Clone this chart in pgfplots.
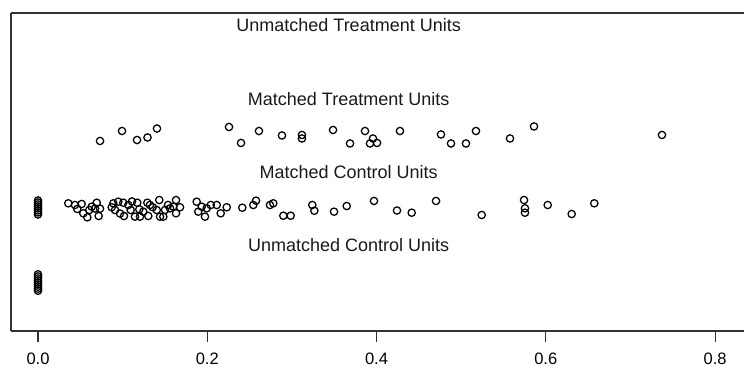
\documentclass[border=0pt]{standalone}
\usepackage{pgfplots}
\pgfplotsset{compat=1.18}
\usepackage{fontspec}
\setmainfont{Liberation Sans}
\begin{document}
\begin{tikzpicture}
\begin{axis}[
  at={(0,0)}, anchor=south west,
  scale only axis, width=549.75pt, height=238.5pt,
  xmin=-0.0319, xmax=0.8342, ymin=0.332, ymax=4.668,
  axis x line=box, axis y line=left,
  every non boxed y axis/.style={},
  y axis line style={-},
  axis line style={line width=0.8pt, black!80},
  ytick=\empty,
  xtick={0,0.2,0.4,0.6,0.8},
  xticklabels={0.0,0.2,0.4,0.6,0.8},
  xtick pos=left, xtick align=outside,
  major tick length=8pt,
  xtick style={line width=0.8pt, black!80},
  x tick label style={font=\fontsize{12.4}{14}\selectfont, yshift=-5pt},
  /pgf/number format/assume math mode=true,
  clip=false,
  jit/.style={only marks, mark=o, mark size=2.75pt, draw=black, mark options={line width=0.95pt, draw=black, fill=none}},
]
% Matched treatment units
\addplot[jit] coordinates {
(0.0733,2.923) (0.0993,3.059) (0.1170,2.936) (0.1294,2.971) (0.1406,3.093)
(0.2257,3.114) (0.2399,2.896) (0.2611,3.059) (0.2883,2.998) (0.3119,3.005)
(0.3119,2.957) (0.3486,3.073) (0.3687,2.889) (0.3864,3.059) (0.3958,2.957)
(0.3923,2.889) (0.4006,2.896) (0.4277,3.059) (0.4762,3.012) (0.4880,2.889)
(0.5057,2.889) (0.5175,3.059) (0.5577,2.957) (0.5861,3.121) (0.7373,3.005)
};
% Matched control units
\addplot[jit] coordinates {
(0,2.112) (0,2.085) (0,2.058) (0,2.030) (0,2.003) (0,1.976) (0,1.949) (0,1.921)
(0.0358,2.073) (0.0464,1.996) (0.0516,2.064) (0.0535,1.937) (0.0583,1.882)
(0.0606,1.982) (0.0635,2.027) (0.0694,2.081) (0.0717,1.900) (0.0733,2.000)
(0.0871,2.019) (0.0890,2.073) (0.0910,1.982) (0.0949,2.095) (0.1008,2.081)
(0.1016,1.900) (0.1067,2.050) (0.1095,1.982) (0.1146,1.891) (0.1173,2.081)
(0.1197,1.991) (0.1205,1.891) (0.1244,1.959) (0.1292,2.081) (0.1303,1.900)
(0.1355,2.019) (0.1403,1.982) (0.1433,2.118) (0.1442,1.891) (0.1481,1.891)
(0.1501,1.982) (0.1560,2.005) (0.1599,2.027) (0.1631,2.118) (0.1631,1.937)
(0.1678,2.019) (0.1875,2.095) (0.1894,1.959) (0.1934,2.027) (0.1973,1.891)
(0.1993,2.005) (0.2041,2.050) (0.2112,2.050) (0.2159,1.937) (0.2230,2.019)
(0.2414,2.013)
(0.0437,2.050) (0.0674,2.002) (0.0969,1.934) (0.1111,2.098) (0.1323,2.050) (0.1536,2.050)
(0.2544,2.050) (0.2576,2.109) (0.2741,2.050) (0.2780,2.073) (0.2899,1.904)
(0.2986,1.904) (0.3241,2.050) (0.3265,1.972) (0.3498,1.959) (0.3648,2.036)
(0.3970,2.105) (0.4242,1.975) (0.4416,1.945) (0.4703,2.105) (0.5243,1.914)
(0.5743,2.118) (0.5754,2.005) (0.5754,1.945) (0.6023,2.050) (0.6306,1.927)
(0.6573,2.073)
};
% Unmatched control units
\addplot[jit] coordinates {
(0,1.105) (0,1.077) (0,1.049) (0,1.021) (0,0.993) (0,0.965) (0,0.937) (0,0.909) (0,0.881)
};
\node[font=\fontsize{13.5}{16}\selectfont, text=black!90] at (axis cs:0.367,4.5) {Unmatched Treatment Units};
\node[font=\fontsize{13.5}{16}\selectfont, text=black!90] at (axis cs:0.367,3.5) {Matched Treatment Units};
\node[font=\fontsize{13.5}{16}\selectfont, text=black!90] at (axis cs:0.367,2.5) {Matched Control Units};
\node[font=\fontsize{13.5}{16}\selectfont, text=black!90] at (axis cs:0.367,1.5) {Unmatched Control Units};
\end{axis}
\pgfresetboundingbox
\path[use as bounding box] (-8.25pt,-30.75pt) rectangle (549.75pt,248.25pt);
\end{tikzpicture}
\end{document}
